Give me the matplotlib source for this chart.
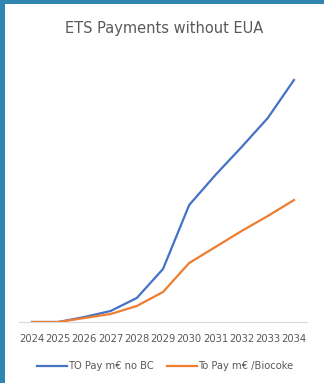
import numpy as np
import matplotlib
matplotlib.use("Agg")
import matplotlib.pyplot as plt
from matplotlib.patches import Rectangle

# data (arbitrary units, m€)
years = [2024, 2025, 2026, 2027, 2028, 2029, 2030, 2031, 2032, 2033, 2034]
pay_no_bc = [0, 0, 5, 11, 24, 53, 117, 147, 175, 204, 242]
pay_biocoke = [0, 0, 4, 8, 16, 30, 59, 75, 91, 106, 122]

W, H = 324, 383
fig = plt.figure(figsize=(W / 100, H / 100), dpi=100)
fig.patch.set_facecolor("#2E86B1")

# white chart area inside the blue frame
fig.patches.append(Rectangle((5 / W, 0), 1 - 5 / W, 1 - 4 / H,
                             transform=fig.transFigure, facecolor="white",
                             edgecolor="none", zorder=-1))

ax = fig.add_axes([18.9 / W, 61 / H, 288.2 / W, 262 / H])
ax.set_facecolor("none")

ax.plot(years, pay_no_bc, color="#4472C4", lw=1.6, label="TO Pay m€ no BC")
ax.plot(years, pay_biocoke, color="#ED7D31", lw=1.6, label="To Pay m€ /Biocoke")

ax.set_xlim(2023.5, 2034.5)
ax.set_ylim(0, 262)
ax.set_xticks(years)
ax.set_xticklabels([str(y) for y in years], fontsize=7.2, color="#595959")
ax.tick_params(axis="x", length=0, pad=9)
ax.set_yticks([])
for s in ["top", "right", "left"]:
    ax.spines[s].set_visible(False)
ax.spines["bottom"].set_color("#D9D9D9")
ax.spines["bottom"].set_linewidth(0.8)

fig.text(164 / W, 1 - 28 / H, "ETS Payments without EUA", ha="center", va="center",
         fontsize=10.5, color="#595959")

leg = fig.legend(loc="center", bbox_to_anchor=(165 / W, 1 - 366 / H), ncol=2,
                 frameon=False, fontsize=7.2, handlelength=3.0, handletextpad=0.1,
                 columnspacing=1.3)
for t in leg.get_texts():
    t.set_color("#595959")

fig.savefig("out.png", dpi=100)
